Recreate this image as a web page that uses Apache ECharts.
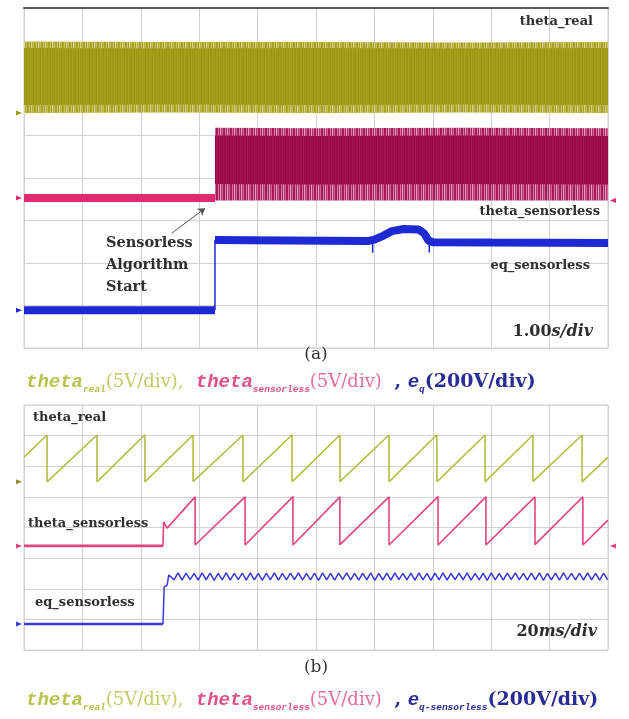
<!DOCTYPE html>
<html>
<head>
<meta charset="utf-8">
<script src="https://cdn.jsdelivr.net/npm/echarts@6/dist/echarts.min.js"></script>
<style>
  html, body { margin: 0; padding: 0; background: #ffffff; }
  #c { width: 629px; height: 719px; }
</style>
</head>
<body>
<div id="c"></div>
<script>
// ===== Panel (a): 1.00 s/div, traces in screen divisions (0..8) =====
// theta_real: dense sawtooth, seen as a solid band (outer edge / inner core)
const thetaRealA_t        = [0, 2.5, 5, 7.5, 10];
const thetaRealA_top      = [7.21, 7.20, 7.20, 7.19, 7.20];
const thetaRealA_coreTop  = [7.06, 7.05, 7.06, 7.05, 7.06];
const thetaRealA_coreBot  = [5.72, 5.73, 5.72, 5.73, 5.72];
const thetaRealA_bot      = [5.53, 5.54, 5.53, 5.54, 5.53];

// theta_sensorless: flat until the algorithm starts, then a dense band
const thetaSensA_before   = [[0, 3.53], [3.27, 3.53]];
const thetaSensA_t        = [3.27, 5, 7.5, 10];
const thetaSensA_top      = [5.18, 5.17, 5.18, 5.17];
const thetaSensA_coreTop  = [5.00, 4.99, 5.00, 4.99];
const thetaSensA_coreBot  = [3.86, 3.85, 3.86, 3.85];
const thetaSensA_bot      = [3.47, 3.47, 3.47, 3.47];

// eq_sensorless
const eqA_low  = [[0, 0.89], [3.27, 0.89]];
const eqA_step = [[3.27, 0.89], [3.27, 2.54]];
const eqA_high = [
  [3.27, 2.54], [4.5, 2.53], [5.9, 2.52], [6.0, 2.55], [6.15, 2.64],
  [6.3, 2.75], [6.5, 2.80], [6.75, 2.79], [6.85, 2.70], [6.93, 2.52],
  [7.0, 2.49], [8.0, 2.48], [10, 2.47]
];
// thin downward spikes at the edges of the disturbance
const eqA_spike1 = [[5.97, 2.53], [5.97, 2.24]];
const eqA_spike2 = [[6.94, 2.52], [6.94, 2.25]];

// annotation arrow (tail -> head), in panel (a) units
const arrowA = [[2.53, 2.70], [3.10, 3.29]];

// ===== Panel (b): 20 ms/div =====
const thetaRealB = [
  [0, 6.30],
  [7.9, 7.02], [7.9, 5.49], [25.0, 7.02], [25.0, 5.49], [41.4, 7.03], [41.4, 5.49],
  [57.9, 7.02], [57.9, 5.50], [75.0, 7.02], [75.0, 5.49], [91.8, 7.03], [91.8, 5.49],
  [108.2, 7.02], [108.2, 5.50], [125.0, 7.02], [125.0, 5.49], [141.4, 7.03], [141.4, 5.49],
  [157.9, 7.02], [157.9, 5.49], [174.3, 7.02], [174.3, 5.50], [191.1, 7.02], [191.1, 5.49],
  [200, 6.30]
];
const thetaSensB_before = [[0, 3.40], [47.6, 3.40]];
const thetaSensB = [
  [47.6, 3.40], [47.8, 4.18], [49.0, 3.98],
  [58.6, 5.00], [58.6, 3.43], [75.7, 5.00], [75.7, 3.43], [92.1, 5.01], [92.1, 3.43],
  [108.2, 5.00], [108.2, 3.44], [125.0, 5.00], [125.0, 3.43], [141.8, 5.01], [141.8, 3.43],
  [158.2, 5.00], [158.2, 3.43], [175.0, 5.00], [175.0, 3.44], [191.4, 5.00], [191.4, 3.43],
  [200, 4.24]
];
const eqB_before = [[0, 0.85], [47.6, 0.85]];
const eqB_rise   = [[47.6, 0.85], [48.0, 2.05], [49.0, 2.12], [49.6, 2.45]];
// ripple after the start, sampled every 1.375 ms from 50 ms
const eqRippleStart = 50.0;
const eqRippleStep  = 1.375;
const eqRipple = [
  2.50,2.29,2.52,2.28,2.51,2.30,2.50,2.28,2.52,2.29,
  2.51,2.27,2.50,2.29,2.52,2.28,2.50,2.30,2.51,2.28,
  2.52,2.29,2.50,2.27,2.51,2.29,2.52,2.28,2.50,2.29,
  2.51,2.30,2.52,2.28,2.50,2.29,2.51,2.27,2.52,2.29,
  2.50,2.28,2.51,2.30,2.52,2.29,2.50,2.28,2.51,2.29,
  2.52,2.27,2.50,2.29,2.51,2.28,2.52,2.30,2.50,2.29,
  2.51,2.28,2.52,2.29,2.50,2.27,2.51,2.29,2.52,2.28,
  2.50,2.30,2.51,2.29,2.52,2.28,2.50,2.29,2.51,2.27,
  2.52,2.29,2.50,2.28,2.51,2.30,2.52,2.29,2.50,2.28,
  2.51,2.29,2.52,2.27,2.50,2.29,2.51,2.28,2.52,2.30,
  2.50,2.29,2.51,2.28,2.52,2.29,2.50,2.28,2.51,2.29
];

// ===== Colours =====
const C = {
  yelA: '#a19a15', magA0: '#dc2d70', bluA: '#1d2ad3',
  yelB: '#b4bd45', magB: '#e0457f', bluB: '#3a3ad6',
  grid: '#d2d2d2', txt: '#2f2f2f'
};

// vertical-streak fill patterns for the dense bands
function stripes(cols) {
  const cv = document.createElement('canvas');
  cv.width = cols.length; cv.height = 2;
  const g = cv.getContext('2d');
  cols.forEach((c, i) => { g.fillStyle = c; g.fillRect(i, 0, 1, 2); });
  return { image: cv, repeat: 'repeat' };
}
const patYelCore = stripes(['#a29b16', '#9c950f', '#a8a11f', '#9f9813', '#a49d19', '#9a9310', '#a69f1d']);
const patYelEdge = stripes(['#aca52a', '#c9c36a', '#a49d1e', '#d6d190', '#b6af3c', '#c2bb58', '#a8a124']);
const patMagCore = stripes(['#9e0c4c', '#970946', '#a31457', '#9a0a48', '#a01050', '#950845', '#a21356']);
const patMagEdge = stripes(['#a8185c', '#d27aa6', '#ac2062', '#e0a0c0', '#b83274', '#cc6898', '#a61a5c']);

// band drawn between two envelopes through the axis scales
function band(xi, t, lo, hi, fill, z) {
  return {
    type: 'custom', xAxisIndex: xi, yAxisIndex: xi, z: z || 2,
    silent: true, clip: true,
    data: t.map((x, i) => [x, lo[i], hi[i]]),
    encode: { x: 0, y: [1, 2] },
    renderItem: function (params, api) {
      if (params.dataIndex !== 0) return null;
      const pts = [];
      for (let i = 0; i < t.length; i++) pts.push(api.coord([t[i], hi[i]]));
      for (let i = t.length - 1; i >= 0; i--) pts.push(api.coord([t[i], lo[i]]));
      return { type: 'polygon', shape: { points: pts }, style: { fill: fill } };
    }
  };
}

function line(xi, data, color, width, z, extra) {
  return Object.assign({
    type: 'line', xAxisIndex: xi, yAxisIndex: xi, data: data,
    symbol: 'none', silent: true, z: z || 3, animation: false,
    lineStyle: { color: color, width: width, cap: 'butt', join: 'bevel' }
  }, extra || {});
}

// small ground-level markers at the screen edges
function marker(coord, color, side) {
  return {
    symbol: 'triangle', symbolSize: [5, 6], symbolRotate: side === 'left' ? -90 : 90,
    symbolOffset: [side === 'left' ? -5 : 5, 0],
    coord: coord, itemStyle: { color: color }, label: { show: false }
  };
}

const eqRippleData = eqRipple.map((v, i) => [eqRippleStart + i * eqRippleStep, v]);

const axisCommon = {
  type: 'value', axisLabel: { show: false }, axisTick: { show: false },
  splitLine: { show: true, lineStyle: { color: C.grid, width: 1 } }
};

const serif = '"DejaVu Serif", "Liberation Serif", serif';
const mono  = '"Liberation Mono", "DejaVu Sans Mono", monospace';

// caption line: theta_real(5V/div), theta_sensorless(5V/div) , e_q(200V/div)
function legendRich() {
  const Y = '#b9c24c', Yn = '#c4ca66', M = '#e2508c', Mn = '#e66c9e', B = '#2b2b98';
  const big = { fontFamily: mono, fontStyle: 'italic', fontWeight: 'bold', fontSize: 19, lineHeight: 26 };
  const sub = { fontFamily: mono, fontStyle: 'italic', fontWeight: 'bold', fontSize: 9.5, lineHeight: 12, verticalAlign: 'bottom' };
  const nrm = { fontFamily: serif, fontSize: 18, lineHeight: 26 };
  const bld = { fontFamily: serif, fontWeight: 'bold', fontSize: 19, lineHeight: 26 };
  const col = c => ({ color: c, fill: c });
  return {
    ty:  Object.assign({}, big, col(Y)),
    tys: Object.assign({}, sub, col(Y)),
    tyn: Object.assign({}, nrm, col(Yn), { width: 90 }),
    tm:  Object.assign({}, big, col(M)),
    tms: Object.assign({}, sub, col(M)),
    tmn: Object.assign({}, nrm, col(Mn), { width: 78 }),
    tb:  Object.assign({}, bld, col(B)),
    tbe: Object.assign({}, big, col(B)),
    tbs: Object.assign({}, sub, col(B))
  };
}

function txt(x, y, text, opt) {
  return {
    type: 'text', x: x, y: y, silent: true, z: 50,
    style: Object.assign({
      text: text, fill: C.txt, font: 'bold 13px ' + serif,
      textAlign: 'left', textVerticalAlign: 'middle'
    }, opt || {})
  };
}

function divLabel(x, y, num, unit) {
  return {
    type: 'text', x: x, y: y, z: 50, silent: true,
    style: {
      text: '{n|' + num + '}{u|' + unit + '}', textAlign: 'right', textVerticalAlign: 'middle',
      rich: {
        n: { fontFamily: serif, fontWeight: 'bold', fontSize: 16, color: C.txt, fill: C.txt },
        u: { fontFamily: serif, fontWeight: 'bold', fontStyle: 'italic', fontSize: 16, color: C.txt, fill: C.txt }
      }
    }
  };
}

const chart = echarts.init(document.getElementById('c'), null, { renderer: 'canvas' });

chart.setOption({
  animation: false,
  backgroundColor: '#ffffff',
  grid: [
    { left: 24, top: 8, width: 584, height: 340, show: true, borderColor: '#cfcfcf', borderWidth: 1 },
    { left: 24, top: 405, width: 584, height: 245, show: true, borderColor: '#cfcfcf', borderWidth: 1 }
  ],
  xAxis: [
    Object.assign({}, axisCommon, { gridIndex: 0, min: 0, max: 10, interval: 1, position: 'top',
      axisLine: { show: true, onZero: false, lineStyle: { color: '#5b5b5b', width: 2 } } }),
    Object.assign({}, axisCommon, { gridIndex: 1, min: 0, max: 200, interval: 20,
      axisLine: { show: false } })
  ],
  yAxis: [
    Object.assign({}, axisCommon, { gridIndex: 0, min: 0, max: 8, interval: 1, axisLine: { show: false } }),
    Object.assign({}, axisCommon, { gridIndex: 1, min: 0, max: 8, interval: 1, axisLine: { show: false } })
  ],
  series: [
    // ---- panel (a)
    band(0, thetaRealA_t, thetaRealA_bot, thetaRealA_top, patYelEdge, 2),
    band(0, thetaRealA_t, thetaRealA_coreBot, thetaRealA_coreTop, patYelCore, 3),
    band(0, thetaSensA_t, thetaSensA_bot, thetaSensA_top, patMagEdge, 2),
    band(0, thetaSensA_t, thetaSensA_coreBot, thetaSensA_coreTop, patMagCore, 3),
    line(0, thetaSensA_before, C.magA0, 8, 4, {
      markPoint: { silent: true, data: [
        marker([0, 3.53], C.magA0, 'left'), marker([10, 3.47], C.magA0, 'right'),
        marker([0, 5.53], C.yelA, 'left'), marker([0, 0.89], C.bluA, 'left')
      ] },
      markLine: { silent: true, symbol: ['none', 'arrow'], symbolSize: 7,
        lineStyle: { color: '#555555', width: 1, type: 'solid' }, label: { show: false },
        data: [[{ coord: arrowA[0] }, { coord: arrowA[1] }]] }
    }),
    line(0, eqA_low, C.bluA, 8, 4),
    line(0, eqA_step, C.bluA, 1.5, 4),
    line(0, eqA_high, C.bluA, 8, 4),
    line(0, eqA_spike1, C.bluA, 1.5, 4),
    line(0, eqA_spike2, C.bluA, 1.5, 4),
    // ---- panel (b)
    line(1, thetaRealB, C.yelB, 1.6, 4, {
      markPoint: { silent: true, data: [
        marker([0, 5.49], '#8a8f30', 'left'),
        marker([0, 3.40], C.magB, 'left'), marker([200, 3.40], C.magB, 'right'),
        marker([0, 0.85], C.bluB, 'left')
      ] }
    }),
    line(1, thetaSensB_before, C.magB, 2.6, 4),
    line(1, thetaSensB, C.magB, 1.6, 4),
    line(1, eqB_before, C.bluB, 2.6, 4),
    line(1, eqB_rise.concat(eqRippleData), C.bluB, 1.5, 4)
  ],
  graphic: [
    // panel (a) labels
    txt(593, 22, 'theta_real', { textAlign: 'right' }),
    txt(600, 212, 'theta_sensorless', { textAlign: 'right' }),
    txt(590, 266, 'eq_sensorless', { textAlign: 'right' }),
    txt(106, 243, 'Sensorless', { font: 'bold 14.5px ' + serif }),
    txt(106, 265, 'Algorithm', { font: 'bold 14.5px ' + serif }),
    txt(106, 287, 'Start', { font: 'bold 14.5px ' + serif }),
    divLabel(593, 332, '1.00', 's/div'),
    txt(316, 355, '(a)', { font: '17px ' + serif, textAlign: 'center', fill: '#333333' }),
    {
      type: 'text', x: 26, y: 382, z: 50, silent: true,
      style: {
        text: '{ty|theta}{tys|real}{tyn|(5V/div), }{tm|theta}{tms|sensorless}{tmn|(5V/div)}{tb| , }{tbe|e}{tbs|q}{tb|(200V/div)}',
        textAlign: 'left', textVerticalAlign: 'middle', rich: legendRich()
      }
    },
    // panel (b) labels
    txt(33, 418, 'theta_real'),
    txt(28, 524, 'theta_sensorless'),
    txt(35, 603, 'eq_sensorless'),
    divLabel(597, 632, '20', 'ms/div'),
    txt(316, 668, '(b)', { font: '17px ' + serif, textAlign: 'center', fill: '#333333' }),
    {
      type: 'text', x: 26, y: 700, z: 50, silent: true,
      style: {
        text: '{ty|theta}{tys|real}{tyn|(5V/div), }{tm|theta}{tms|sensorless}{tmn|(5V/div)}{tb| , }{tbe|e}{tbs|q-sensorless}{tb|(200V/div)}',
        textAlign: 'left', textVerticalAlign: 'middle', rich: legendRich()
      }
    }
  ]
});
</script>
</body>
</html>
